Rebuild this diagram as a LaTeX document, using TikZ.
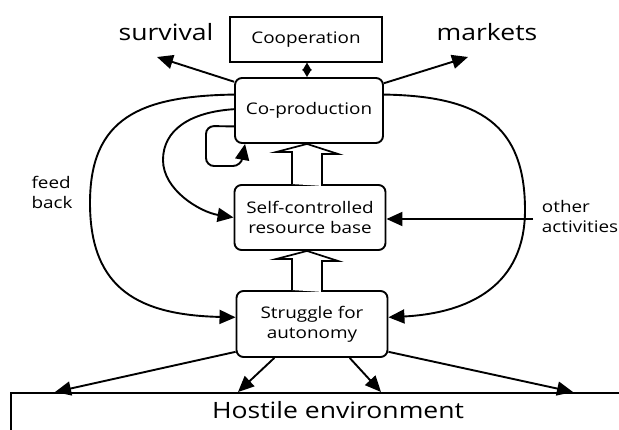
\documentclass[tikz,border=0pt]{standalone}
\usepackage{fontspec}
\setmainfont[FakeStretch=1.18]{Open Sans}
\usetikzlibrary{arrows.meta,calc}
\begin{document}
\begin{tikzpicture}[x=1pt,y=-1pt,line width=1.9pt,
  box/.style={draw, rounded corners=7pt, align=center, inner sep=0pt,
    font=\fontsize{16}{20}\selectfont},
  plain/.style={draw, line width=1.2pt, inner sep=0pt, font=\fontsize{16}{20}\selectfont},
  arr/.style={-{Triangle[length=16pt,width=14pt]}},
  dbl/.style={line width=1.3pt,{Triangle[length=8pt,width=9pt]}-{Triangle[length=8pt,width=9pt]}},
  hollow/.style={fill=white, line width=1.7pt, line join=miter},
  bigtext/.style={font=\fontsize{22.5}{26}\selectfont},
  smalltext/.style={font=\fontsize{16}{20}\selectfont, align=left, inner sep=0pt}
]
\useasboundingbox (0,0) rectangle (619,430);
\clip (0,0) rectangle (619,430);

% boxes
\node[plain, minimum width=152pt, minimum height=45pt] (coop) at (306,39.5) {Cooperation};
\node[box, minimum width=148pt, minimum height=65pt] (cop) at (309,110.5) {Co-production};
\node[box, minimum width=151pt, minimum height=65pt] (self) at (310,217.5) {Self-controlled\\resource base};
\node[box, minimum width=151pt, minimum height=66pt] (str) at (312,324) {Struggle for\\autonomy};

% environment
\node[draw, line width=1.6pt, anchor=north west, minimum width=700pt, minimum height=100pt, inner sep=0pt] (env) at (10,392) {};
\node[bigtext] (envtext) at (338,410) {Hostile environment};

% outer labels
\node[bigtext] (surv) at (166,32) {survival};
\node[bigtext] (mark) at (487,32) {markets};
\node[smalltext] (feed) at (52,192) {feed\\back};
\node[smalltext, anchor=west] (other) at (541,217) {other\\activities};

% free ends
\coordinate (survtip) at (157,57);
\coordinate (marktip) at (468,57);
\coordinate (oa) at (533,219);
\coordinate (e1) at (55,392);
\coordinate (e2) at (238,392);
\coordinate (e3) at (381,392);
\coordinate (e4) at (573,392);

% cooperation <-> co-production
\draw[dbl] (coop.south -| 307,0) -- (cop.north -| 307,0);

% outputs
\draw[arr] (cop.159) -- (survtip);
\draw[arr] (cop.20) -- (marktip);

% feedback curves
\draw[arr] (cop.168) .. controls (140,96) and (90,118) .. (90,203)
  .. controls (90,290) and (140,315) .. (str.175);
\draw[arr] (cop.12) .. controls (480,96) and (525,125) .. (525,210)
  .. controls (525,285) and (470,313) .. (str.5);
\draw[arr] (cop.179) .. controls (190,112) and (163,130) .. (163,160)
  .. controls (163,190) and (200,212) .. (self.west);
\draw[arr, rounded corners=8pt] (cop.192) -- (206,126) -- (206,166) -- (241,166) -- ([xshift=11pt]cop.south west);

% other activities
\draw[arr] (oa) -- (oa -| self.east);

% hollow arrows
\draw[hollow] ([xshift=-18pt]self.north) -- ++(0,-32) -- ++(-16,0) -- ([xshift=-2pt]cop.south)
  -- ++(31,10) -- ++(-16,0) -- ++(0,32);
\draw[hollow] ([xshift=-20pt]str.north) -- ++(0,-31) -- ++(-16,0) -- ([xshift=-3pt]self.south)
  -- ++(31,10) -- ++(-16,0) -- ++(0,31);

% to environment
\draw[arr] (str.200) -- (e1);
\draw[arr] (str.222) -- (e2);
\draw[arr] (str.318) -- (e3);
\draw[arr] (str.340) -- (e4);
\end{tikzpicture}
\end{document}
